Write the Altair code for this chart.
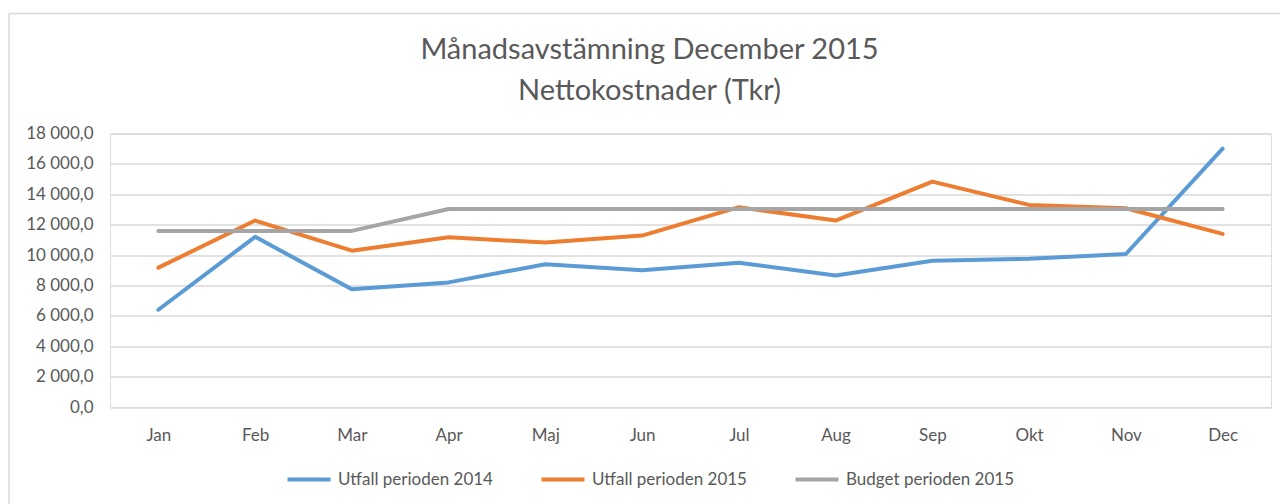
import altair as alt
import pandas as pd

months = ["Jan", "Feb", "Mar", "Apr", "Maj", "Jun", "Jul", "Aug", "Sep", "Okt", "Nov", "Dec"]
series_names = ["Utfall perioden 2014", "Utfall perioden 2015", "Budget perioden 2015"]
utfall_2014 = [6400, 11200, 7750, 8200, 9400, 9000, 9500, 8650, 9630, 9750, 10070, 17000]
utfall_2015 = [9170, 12270, 10290, 11170, 10820, 11280, 13150, 12270, 14830, 13300, 13080, 11390]
budget_2015 = [11590, 11590, 11590, 13030, 13030, 13030, 13030, 13030, 13030, 13030, 13030, 13030]
colors = ["#5B9BD5", "#ED7D31", "#A5A5A5"]
y_ticks = [0, 2000, 4000, 6000, 8000, 10000, 12000, 14000, 16000, 18000]

rows = []
for name, vals in zip(series_names, [utfall_2014, utfall_2015, budget_2015]):
    for i, (m, v) in enumerate(zip(months, vals)):
        rows.append({"Månad": m, "Serie": name, "Värde": v, "ordning": i})
df = pd.DataFrame(rows)

FONT = "Lato"
TXT = "#595959"

lines = alt.Chart(df).mark_line(strokeWidth=4, strokeCap="round", strokeJoin="round").encode(
    x=alt.X("Månad:N", sort=months,
            scale=alt.Scale(type="point", padding=0.5),
            axis=alt.Axis(title=None, domain=False, ticks=False, grid=False,
                          labelAngle=0, labelPadding=20, labelFont=FONT,
                          labelFontSize=17, labelColor=TXT)),
    y=alt.Y("Värde:Q", scale=alt.Scale(domain=[0, 18000], nice=False),
            axis=alt.Axis(title=None, domain=False, ticks=False, values=y_ticks,
                          gridColor="#D9D9D9", gridWidth=1.3, labelPadding=17,
                          labelFont=FONT, labelFontSize=17, labelColor=TXT,
                          labelExpr="replace(replace(format(datum.value, ',.1f'), ',', ' '), '.', ',')")),
    color=alt.Color("Serie:N", sort=series_names,
                    scale=alt.Scale(domain=series_names, range=colors),
                    legend=alt.Legend(title=None, orient="none", direction="horizontal",
                                      legendX=175, legendY=322,
                                      symbolType="stroke", symbolSize=1850,
                                      symbolStrokeWidth=4, labelFont=FONT,
                                      labelFontSize=17, labelColor=TXT, labelLimit=400,
                                      labelOffset=5, columnPadding=40)),
    order=alt.Order("ordning:Q"),
    detail="Serie:N",
)

border_top = alt.Chart(pd.DataFrame({"a": [0]})).mark_rule(color="#D9D9D9", strokeWidth=1.5).encode(
    x=alt.value(-101), x2=alt.value(1170), y=alt.value(-120)
)
border_left = alt.Chart(pd.DataFrame({"a": [0]})).mark_rule(color="#D9D9D9", strokeWidth=1.5).encode(
    x=alt.value(-101), y=alt.value(-120), y2=alt.value(372)
)

chart = alt.layer(border_top, border_left, lines).properties(
    width=1161,
    height=273.5,
    autosize=alt.AutoSizeParams(type="none"),
    padding={"left": 110, "top": 133.5, "right": 9, "bottom": 97},
    title=alt.TitleParams(
        ["Månadsavstämning December 2015", "Nettokostnader (Tkr)"],
        font=FONT, fontSize=29, fontWeight="normal", color=TXT,
        lineHeight=41, anchor="middle", frame="group", dx=-41, offset=0, dy=93,
    ),
).configure_view(stroke=None).configure(background="white")

chart.save("out.html", embed_options={"renderer": "svg", "actions": False})
